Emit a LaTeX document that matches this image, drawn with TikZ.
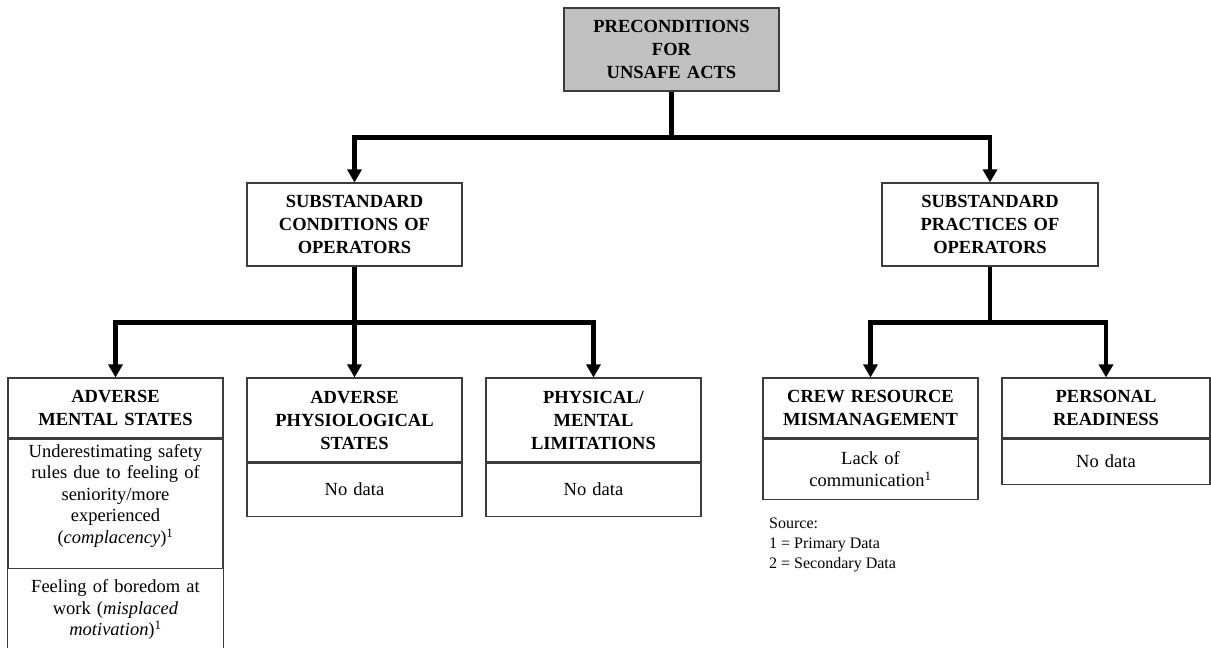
\documentclass[tikz,border=0pt]{standalone}
\usepackage{fontspec}
\setmainfont{Liberation Serif}
\usetikzlibrary{arrows.meta}
\definecolor{boxgray}{HTML}{C0C0C0}
\definecolor{edgegray}{HTML}{3C3C3C}

\begin{document}
\begin{tikzpicture}[x=1pt, y=-1pt,
    head/.style={draw=edgegray, line width=1.1pt, fill=white, align=center,
                 text width=205pt, minimum width=215pt, inner sep=0pt,
                 font=\bfseries\fontsize{18.5}{23}\selectfont},
    body/.style={draw=edgegray, line width=1.1pt, fill=white, align=center,
                 text width=205pt, minimum width=215pt, inner sep=0pt,
                 font=\fontsize{18.5}{21.5}\selectfont},
    conn/.style={line width=4.5pt, -{Triangle[length=13pt,width=14pt]}}]

  \useasboundingbox (0,0) rectangle (1211,648);

  % ---- top level --------------------------------------------------------
  \node[head, fill=boxgray, minimum height=83pt] (pre) at (671.5,49.5)
    {PRECONDITIONS\\FOR\\UNSAFE ACTS};

  % ---- second level -----------------------------------------------------
  \node[head, minimum height=83pt] (cond) at (354.5,224.5)
    {SUBSTANDARD\\CONDITIONS OF\\OPERATORS};
  \node[head, minimum width=216pt, minimum height=83pt] (prac) at (990,224.5)
    {SUBSTANDARD\\PRACTICES OF\\OPERATORS};

  % ---- third level: headers with their findings below -------------------
  \node[head, minimum height=60pt] (amsH) at (115.5,408) {ADVERSE\\MENTAL STATES};
  \node[body, minimum height=129pt, anchor=north] (amsB) at (amsH.south)
    {Underestimating safety\\rules due to feeling of\\seniority/more\\experienced\\
     (\textit{complacency})\textsuperscript{1}\\[-2pt]\mbox{}};
  \node[body, draw=none, fill=none, minimum height=81pt, anchor=north] (amsC) at (amsB.south)
    {Feeling of boredom at\\work (\textit{misplaced}\\\textit{motivation})\textsuperscript{1}};
  % this column runs off the page, so only its sides are drawn
  \draw[edgegray, line width=1.1pt] (amsC.north west) -- (amsC.south west);
  \draw[edgegray, line width=1.1pt] (amsC.north east) -- (amsC.south east);

  \node[head, minimum height=84pt] (apsH) at (354.5,420) {ADVERSE\\PHYSIOLOGICAL\\STATES};
  \node[body, minimum height=53pt, anchor=north] (apsB) at (apsH.south) {No data};

  \node[head, minimum height=84pt] (pmlH) at (593.5,420) {PHYSICAL/\\MENTAL\\LIMITATIONS};
  \node[body, minimum height=53pt, anchor=north] (pmlB) at (pmlH.south) {No data};

  \node[head, minimum height=60pt] (crmH) at (870.5,408) {CREW RESOURCE\\MISMANAGEMENT};
  \node[body, minimum height=60pt, anchor=north] (crmB) at (crmH.south)
    {Lack of\\communication\textsuperscript{1}};

  \node[head, minimum width=208pt, minimum height=60pt] (prH) at (1106,408) {PERSONAL\\READINESS};
  \node[body, minimum width=208pt, minimum height=45pt, anchor=north] (prB) at (prH.south) {No data};

  % ---- legend -------------------------------------------------------------
  \node[anchor=north west, inner sep=0pt, align=left,
        font=\fontsize{16}{20}\selectfont] (src) at (769,518)
    {Source:\\1 = Primary Data\\2 = Secondary Data};

  % ---- connectors ---------------------------------------------------------
  \draw[conn] (pre.south) -- ++(0,46) -| (cond.north);
  \draw[conn] (pre.south) -- ++(0,46) -| (prac.north);
  \draw[conn] (cond.south) -- ++(0,56) -| (amsH.north);
  \draw[conn] (cond.south) -- (apsH.north);
  \draw[conn] (cond.south) -- ++(0,56) -| (pmlH.north);
  \draw[conn] (prac.south) -- ++(0,56) -| (crmH.north);
  \draw[conn] (prac.south) -- ++(0,56) -| (prH.north);
\end{tikzpicture}
\end{document}
